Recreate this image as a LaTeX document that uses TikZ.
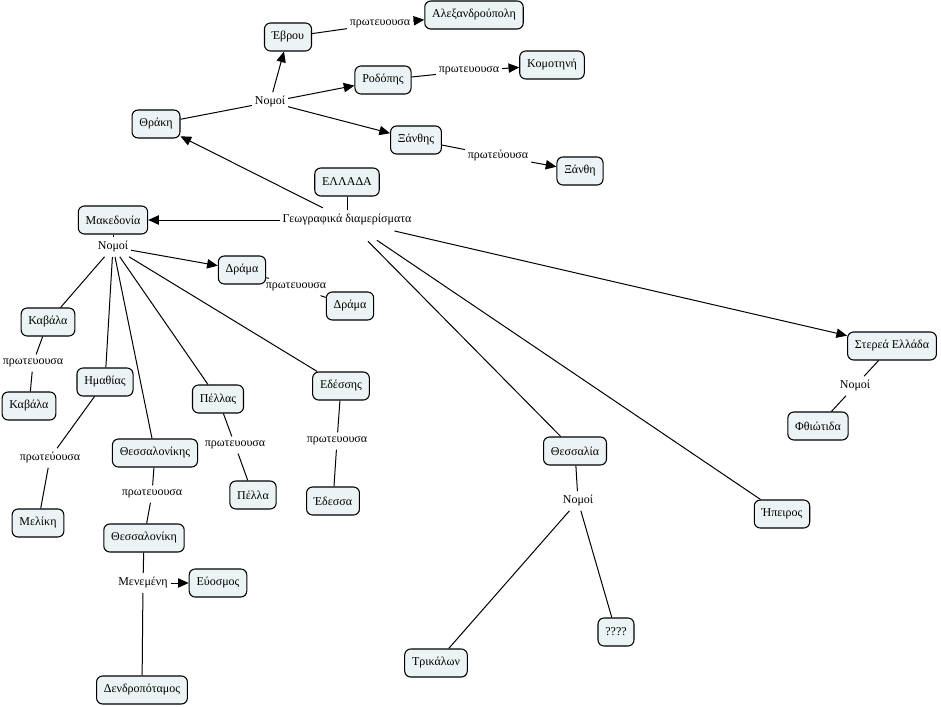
\documentclass[tikz,border=0pt]{standalone}
\usepackage{fontspec}
\setmainfont{Liberation Serif}
\usetikzlibrary{arrows.meta}
\definecolor{boxfill}{RGB}{236,243,245}
\tikzset{
  concept/.style={draw=black, line width=0.8pt, fill=boxfill, rounded corners=4.5pt,
    minimum height=21pt, inner xsep=5.5pt, inner ysep=2pt, font=\fontsize{9}{10}\selectfont},
  linkp/.style={inner xsep=2pt, inner ysep=3pt, font=\fontsize{9}{10}\selectfont},
  conn/.style={draw=black, line width=0.75pt},
  arr/.style={conn, -{Triangle[length=8pt,width=7pt]}},
}
\begin{document}
\begin{tikzpicture}[x=0.75pt,y=-0.75pt]
\useasboundingbox (0,0) rectangle (941,706);
\fill[white] (0,0) rectangle (941,706);
% Thrace
\node[concept] (evrou) at (288,37) {Έβρου};
\node[concept] (alex) at (474,15) {Αλεξανδρούπολη};
\node[concept] (rodopis) at (383,80) {Ροδόπης};
\node[concept] (komot) at (552,65) {Κομοτηνή};
\node[concept] (thraki) at (156,124) {Θράκη};
\node[concept] (xanthis) at (416,140) {Ξάνθης};
\node[concept] (xanthi) at (580,171) {Ξάνθη};
\node[linkp] (nthr) at (270,102) {Νομοί};
\node[linkp] (pevr) at (380,24) {πρωτευουσα};
\node[linkp] (prod) at (469,71) {πρωτευουσα};
\node[linkp] (pxan) at (498,156) {πρωτεύουσα};
% Greece
\node[concept] (ellada) at (347,182) {ΕΛΛΑΔΑ};
\node[linkp] (geo) at (347,220) {Γεωγραφικά διαμερίσματα};
% Macedonia
\node[concept] (maked) at (113,220) {Μακεδονία};
\node[linkp] (nmac) at (113,247) {Νομοί};
\node[concept] (drama1) at (242,270) {Δράμα};
\node[linkp] (pdra) at (296,287) {πρωτευουσα};
\node[concept] (drama2) at (350,306) {Δράμα};
\node[concept] (kavala1) at (48,322) {Καβάλα};
\node[linkp] (pkav) at (33,363) {πρωτευουσα};
\node[concept] (kavala2) at (29,406) {Καβάλα};
\node[concept] (imath) at (105,382) {Ημαθίας};
\node[linkp] (pima) at (50,458) {πρωτεύουσα};
\node[concept] (meliki) at (38,523) {Μελίκη};
\node[concept] (thessk) at (155,453) {Θεσσαλονίκης};
\node[linkp] (pthe) at (152,494) {πρωτευουσα};
\node[concept] (thessn) at (144,538) {Θεσσαλονίκη};
\node[linkp] (menem) at (143,583) {Μενεμένη};
\node[concept] (evosm) at (218,583) {Εύοσμος};
\node[concept] (dendro) at (142,690) {Δενδροπόταμος};
\node[concept] (pellas) at (218,399) {Πέλλας};
\node[linkp] (ppel) at (235,445) {πρωτευουσα};
\node[concept] (pella) at (253,495) {Πέλλα};
\node[concept] (edessis) at (341,386) {Εδέσσης};
\node[linkp] (pede) at (337,441) {πρωτευουσα};
\node[concept] (edessa) at (333,501) {Έδεσσα};
% Sterea
\node[concept] (sterea) at (892,346) {Στερεά Ελλάδα};
\node[linkp] (nste) at (855,386) {Νομοί};
\node[concept] (fthio) at (818,426) {Φθιώτιδα};
% Thessaly
\node[concept] (thessalia) at (575,451) {Θεσσαλία};
\node[linkp] (nthe) at (578,501) {Νομοί};
\node[concept] (trikala) at (436,663) {Τρικάλων};
\node[concept] (qq) at (616,632) {????};
% Epirus
\node[concept] (ipeiros) at (782,514) {Ήπειρος};

% connectors: Greece
\draw[conn] (ellada) -- (geo);
\draw[arr, shorten <=4pt] (geo) -- (thraki);
\draw[arr] (geo) -- (maked);
\draw[arr, shorten <=4pt] (geo) -- (sterea);
\draw[conn, shorten <=12pt] (geo) -- (thessalia);
\draw[conn, shorten <=14pt] (geo) -- (ipeiros);
% Thrace
\draw[conn] (thraki) -- (nthr);
\draw[arr] (nthr) -- (evrou);
\draw[arr] (nthr) -- (rodopis);
\draw[arr] (nthr) -- (xanthis);
\draw[conn] (evrou) -- (pevr);
\draw[arr] (pevr) -- (alex);
\draw[conn] (rodopis) -- (prod);
\draw[arr] (prod) -- (komot);
\draw[conn] (xanthis) -- (pxan);
\draw[arr] (pxan) -- (xanthi);
% Macedonia
\draw[conn] (maked) -- (nmac);
\draw[arr] (nmac) -- (drama1);
\draw[conn] (nmac) -- (kavala1);
\draw[conn] (nmac) -- (imath);
\draw[conn] (nmac) -- (thessk);
\draw[conn] (nmac) -- (pellas);
\draw[conn] (nmac) -- (edessis);
\draw[conn] (drama1) -- (pdra);
\draw[conn] (pdra) -- (drama2);
\draw[conn] (kavala1) -- (pkav);
\draw[conn] (pkav) -- (kavala2);
\draw[conn] (imath) -- (pima);
\draw[conn] (pima) -- (meliki);
\draw[conn] (thessk) -- (pthe);
\draw[conn] (pthe) -- (thessn);
\draw[conn] (thessn) -- (menem);
\draw[arr] (menem) -- (evosm);
\draw[conn] (menem) -- (dendro);
\draw[conn] (pellas) -- (ppel);
\draw[conn] (ppel) -- (pella);
\draw[conn] (edessis) -- (pede);
\draw[conn] (pede) -- (edessa);
% Sterea
\draw[conn] (sterea) -- (nste);
\draw[conn] (nste) -- (fthio);
% Thessaly
\draw[conn] (thessalia) -- (nthe);
\draw[conn] (nthe) -- (trikala);
\draw[conn] (nthe) -- (qq);
\end{tikzpicture}
\end{document}
